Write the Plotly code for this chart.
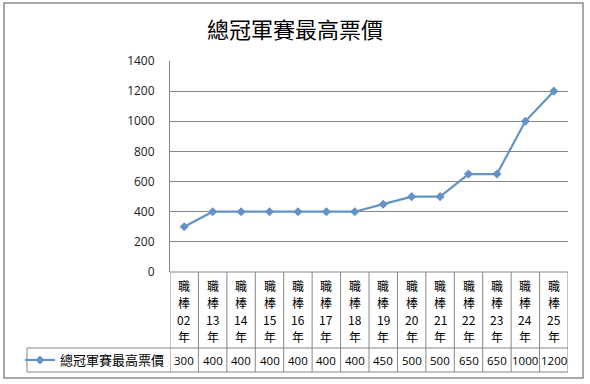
import plotly.graph_objects as go

title = "總冠軍賽最高票價"
series_name = "總冠軍賽最高票價"
years = ["02", "13", "14", "15", "16", "17", "18", "19", "20", "21", "22", "23", "24", "25"]
categories = ["職棒" + y + "年" for y in years]
values = [300, 400, 400, 400, 400, 400, 400, 450, 500, 500, 650, 650, 1000, 1200]
y_ticks = [0, 200, 400, 600, 800, 1000, 1200, 1400]

W, H = 590, 384
def px(x): return x / W
def py(y): return 1 - y / H

LINE = "#6392C6"
GRID = "#868686"
BORDER = "#8C8C8C"
FONT = "Noto Sans CJK TC"

fig = go.Figure()
fig.add_trace(go.Scatter(
    x=categories, y=values, mode="lines+markers", name=series_name,
    line=dict(color=LINE, width=2.2),
    marker=dict(symbol="diamond", size=7, color=LINE),
    showlegend=True,
))

x0, x1 = px(170), px(568)
y_axis_bottom, y_axis_top = py(272), py(61)
row_mid, row_bot = py(348), py(372)

fig.update_layout(
    width=W, height=H,
    margin=dict(l=0, r=0, t=0, b=0, autoexpand=False),
    paper_bgcolor="white", plot_bgcolor="white",
    title=dict(text=title, x=0.5, xanchor="center", y=py(30), yanchor="middle",
               font=dict(family=FONT, size=22, color="black")),
    xaxis=dict(domain=[x0, x1], type="category", range=[-0.5, len(categories) - 0.5],
               showticklabels=False, showgrid=False, zeroline=False, showline=False,
               fixedrange=True, automargin=False),
    yaxis=dict(domain=[y_axis_bottom, y_axis_top], range=[0, 1400], tickvals=y_ticks,
               showgrid=True, gridcolor=GRID, gridwidth=1, zeroline=False,
               showline=True, linecolor=GRID, linewidth=1, ticks="",
               ticklabelstandoff=12, automargin=False, fixedrange=True,
               tickfont=dict(family="Open Sans", size=12, color="#222")),
    legend=dict(x=px(20), y=py(360), xanchor="left", yanchor="middle",
                bgcolor="rgba(0,0,0,0)", borderwidth=0,
                font=dict(family=FONT, size=13, color="black")),
)

shapes = []
# outer border
shapes.append(dict(type="rect", xref="paper", yref="paper", x0=px(4), x1=px(583),
                   y0=py(378), y1=py(3), line=dict(color=BORDER, width=1.5)))
# table horizontal lines
shapes.append(dict(type="line", xref="x", yref="paper", x0=-0.5, x1=len(categories) - 0.5,
                   y0=y_axis_bottom, y1=y_axis_bottom, line=dict(color=GRID, width=1)))
for yy in (row_mid, row_bot):
    shapes.append(dict(type="line", xref="paper", yref="paper", x0=px(27), x1=x1,
                       y0=yy, y1=yy, line=dict(color=GRID, width=1)))
# legend cell left
shapes.append(dict(type="line", xref="paper", yref="paper", x0=px(27), x1=px(27),
                   y0=row_mid, y1=row_bot, line=dict(color=GRID, width=1)))
# column lines
for i in range(len(categories) + 1):
    shapes.append(dict(type="line", xref="x", yref="paper", x0=i - 0.5, x1=i - 0.5,
                       y0=y_axis_bottom, y1=row_bot, line=dict(color=GRID, width=1)))

annotations = []
label_rows = [285, 302, 319, 336]
for cat, yr, v in zip(categories, years, values):
    for part, yrow in zip(["職", "棒", yr, "年"], label_rows):
        annotations.append(dict(x=cat, y=py(yrow), xref="x", yref="paper", showarrow=False,
                                text=part, align="center",
                                font=dict(family=FONT, size=12, color="black"),
                                xanchor="center", yanchor="middle"))
    annotations.append(dict(x=cat, y=py(360), xref="x", yref="paper", showarrow=False,
                            text=str(v), font=dict(family="Open Sans", size=11.5, color="black"),
                            xanchor="center", yanchor="middle"))

fig.update_layout(shapes=shapes, annotations=annotations)
fig.write_html("out.html", config={"displayModeBar": False},
               post_script="document.body.style.margin='0';document.body.style.overflow='hidden';")
